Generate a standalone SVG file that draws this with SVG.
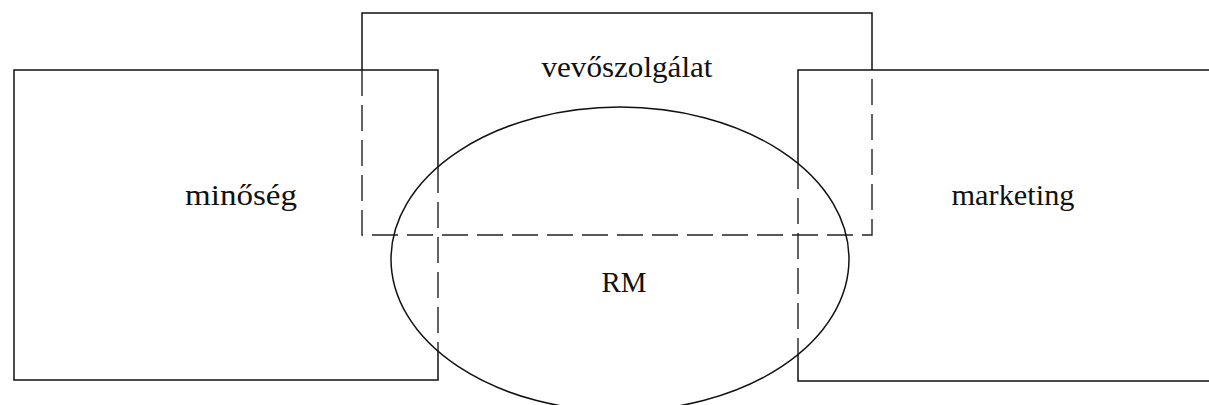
<svg xmlns="http://www.w3.org/2000/svg" width="1209" height="405" viewBox="0 0 1209 405">
<style>
.s{fill:none;stroke:#111;stroke-width:1.5}
.d{fill:none;stroke:#222;stroke-width:1.4;stroke-dasharray:26 9}
.t{font-family:"Liberation Serif",serif;font-size:30px;fill:#111;text-anchor:middle}
</style>
<rect width="1209" height="405" fill="#fff"/>
<g id="minoseg">
<path class="s" d="M438,167 L438,70 L14,70 L14,380 L438,380 L438,351"/>
<path class="d" d="M438,167 L438,351"/>
<text class="t" x="241" y="205" textLength="112" lengthAdjust="spacingAndGlyphs">minőség</text>
</g>
<g id="vevoszolgalat">
<path class="s" d="M362,70 L362,13 L872,13 L872,70"/>
<path class="d" d="M362,70 L362,235 L872,235 L872,70"/>
<text class="t" x="627" y="77" textLength="171" lengthAdjust="spacingAndGlyphs">vevőszolgálat</text>
</g>
<g id="marketing">
<path class="s" d="M798,163 L798,70 L1212,70 M1212,381 L798,381 L798,355"/>
<path class="d" d="M798,163 L798,355"/>
<text class="t" x="1013" y="205" textLength="123" lengthAdjust="spacingAndGlyphs">marketing</text>
</g>
<g id="RM">
<ellipse class="s" cx="620" cy="259" rx="229" ry="152"/>
<text class="t" x="624" y="292" textLength="45" lengthAdjust="spacingAndGlyphs">RM</text>
</g>
<g id="connectors"></g>
</svg>
